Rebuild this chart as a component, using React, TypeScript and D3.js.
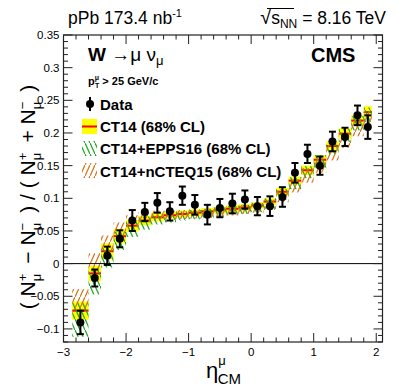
import React, { useEffect, useRef } from 'react';
import * as d3 from 'd3';

// eta_CM bins (edges) and data
const binEdges = [-2.86, -2.6, -2.4, -2.2, -2.0, -1.8, -1.6, -1.4, -1.2, -1.0, -0.8, -0.6, -0.4, -0.2, 0.0, 0.2, 0.4, 0.6, 0.8, 1.0, 1.2, 1.4, 1.6, 1.8, 1.93];
const etaCM = [-2.73, -2.5, -2.3, -2.1, -1.9, -1.7, -1.5, -1.3, -1.1, -0.9, -0.7, -0.5, -0.3, -0.1, 0.1, 0.3, 0.5, 0.7, 0.9, 1.1, 1.3, 1.5, 1.7, 1.865];
const asym = [-0.090, -0.022, 0.012, 0.038, 0.066, 0.079, 0.093, 0.080, 0.104, 0.090, 0.075, 0.085, 0.092, 0.098, 0.088, 0.088, 0.102, 0.139, 0.168, 0.150, 0.187, 0.194, 0.227, 0.209];
const asymErr = [0.018, 0.013, 0.014, 0.013, 0.016, 0.014, 0.015, 0.014, 0.014, 0.015, 0.015, 0.014, 0.015, 0.014, 0.014, 0.015, 0.015, 0.015, 0.014, 0.014, 0.015, 0.014, 0.015, 0.018];

const ct14 = [-0.072, -0.015, 0.019, 0.042, 0.058, 0.066, 0.071, 0.074, 0.076, 0.078, 0.080, 0.082, 0.084, 0.086, 0.089, 0.095, 0.110, 0.127, 0.143, 0.159, 0.180, 0.199, 0.219, 0.232];
const ct14Err = [0.014, 0.012, 0.012, 0.011, 0.009, 0.007, 0.006, 0.005, 0.005, 0.005, 0.005, 0.005, 0.005, 0.005, 0.005, 0.005, 0.006, 0.006, 0.007, 0.007, 0.007, 0.008, 0.008, 0.009];
const epps16 = [-0.086, -0.028, 0.009, 0.035, 0.053, 0.062, 0.068, 0.071, 0.073, 0.075, 0.077, 0.079, 0.081, 0.083, 0.086, 0.092, 0.106, 0.123, 0.140, 0.156, 0.177, 0.196, 0.215, 0.228];
const epps16Err = [0.026, 0.019, 0.015, 0.014, 0.012, 0.010, 0.008, 0.008, 0.007, 0.007, 0.007, 0.007, 0.007, 0.007, 0.007, 0.008, 0.008, 0.009, 0.009, 0.010, 0.010, 0.010, 0.011, 0.011];
const ncteq15 = [-0.055, 0.002, 0.031, 0.052, 0.065, 0.071, 0.073, 0.074, 0.075, 0.076, 0.077, 0.079, 0.081, 0.083, 0.085, 0.090, 0.103, 0.119, 0.135, 0.150, 0.170, 0.189, 0.208, 0.221];
const ncteq15Err = [0.016, 0.014, 0.012, 0.011, 0.009, 0.008, 0.008, 0.007, 0.007, 0.007, 0.007, 0.007, 0.007, 0.007, 0.007, 0.008, 0.009, 0.010, 0.011, 0.011, 0.012, 0.012, 0.013, 0.013];

const yTicks = [-0.1, -0.05, 0, 0.05, 0.1, 0.15, 0.2, 0.25, 0.3, 0.35];
const xTicks = [-3, -2, -1, 0, 1, 2];

const FONT = 'Liberation Sans, Arial, Helvetica, sans-serif';

function App() {
  const ref = useRef<SVGSVGElement>(null);

  useEffect(() => {
    drawChart();
  });

  function drawChart() {
    const width = 399;
    const height = 389;
    const frame = { left: 63.5, right: 382.5, top: 35, bottom: 342 };

    const svg = d3.select(ref.current);
    svg.selectAll('*').remove();
    svg.append('rect').attr('width', width).attr('height', height).attr('fill', 'white');

    const xScale = d3.scaleLinear().domain([-3, 2.1]).range([frame.left, frame.right]);
    const yScale = d3.scaleLinear().domain([-0.12, 0.35]).range([frame.bottom, frame.top]);

    // hatch patterns
    const defs = svg.append('defs');
    const hatch = (id: string, color: string, dir: number) => {
      const p = defs.append('pattern')
        .attr('id', id)
        .attr('patternUnits', 'userSpaceOnUse')
        .attr('width', 5)
        .attr('height', 11);
      p.append('path')
        .attr('d', dir > 0 ? 'M-1,13.2 L6,-2.2' : 'M-1,-2.2 L6,13.2')
        .attr('stroke', color)
        .attr('stroke-width', 1.3)
        .attr('fill', 'none');
    };
    hatch('hatchGreen', '#1fa81f', -1);
    hatch('hatchOrange', '#d9731a', 1);

    const bins = etaCM.map((e, i) => ({ lo: binEdges[i], hi: binEdges[i + 1], i }));

    // CT14 yellow boxes
    svg.append('g').selectAll('rect')
      .data(bins).enter().append('rect')
      .attr('x', d => xScale(d.lo))
      .attr('width', d => xScale(d.hi) - xScale(d.lo))
      .attr('y', d => yScale(ct14[d.i] + ct14Err[d.i]))
      .attr('height', d => yScale(ct14[d.i] - ct14Err[d.i]) - yScale(ct14[d.i] + ct14Err[d.i]))
      .attr('fill', '#ffff00');

    // CT14 central red line
    svg.append('g').selectAll('line')
      .data(bins).enter().append('line')
      .attr('x1', d => xScale(d.lo))
      .attr('x2', d => xScale(d.hi))
      .attr('y1', d => yScale(ct14[d.i]))
      .attr('y2', d => yScale(ct14[d.i]))
      .attr('stroke', '#ff0000')
      .attr('stroke-width', 2);

    // EPPS16 green hatch
    svg.append('g').selectAll('rect')
      .data(bins).enter().append('rect')
      .attr('x', d => xScale(d.lo))
      .attr('width', d => xScale(d.hi) - xScale(d.lo))
      .attr('y', d => yScale(epps16[d.i] + epps16Err[d.i]))
      .attr('height', d => yScale(epps16[d.i] - epps16Err[d.i]) - yScale(epps16[d.i] + epps16Err[d.i]))
      .attr('fill', 'url(#hatchGreen)');

    // nCTEQ15 orange hatch
    svg.append('g').selectAll('rect')
      .data(bins).enter().append('rect')
      .attr('x', d => xScale(d.lo))
      .attr('width', d => xScale(d.hi) - xScale(d.lo))
      .attr('y', d => yScale(ncteq15[d.i] + ncteq15Err[d.i]))
      .attr('height', d => yScale(ncteq15[d.i] - ncteq15Err[d.i]) - yScale(ncteq15[d.i] + ncteq15Err[d.i]))
      .attr('fill', 'url(#hatchOrange)');

    // zero line
    svg.append('line')
      .attr('x1', frame.left).attr('x2', frame.right)
      .attr('y1', yScale(0)).attr('y2', yScale(0))
      .attr('stroke', 'black').attr('stroke-width', 1);

    // data points
    const pts = svg.append('g');
    etaCM.forEach((e, i) => {
      const cx = xScale(e);
      const y1 = yScale(asym[i] + asymErr[i]);
      const y2 = yScale(asym[i] - asymErr[i]);
      pts.append('line').attr('x1', cx).attr('x2', cx).attr('y1', y1).attr('y2', y2)
        .attr('stroke', 'black').attr('stroke-width', 2);
      [y1, y2].forEach(yy => pts.append('line')
        .attr('x1', cx - 3.5).attr('x2', cx + 3.5).attr('y1', yy).attr('y2', yy)
        .attr('stroke', 'black').attr('stroke-width', 2));
      pts.append('circle').attr('cx', cx).attr('cy', yScale(asym[i])).attr('r', 4).attr('fill', 'black');
    });

    // frame
    svg.append('rect')
      .attr('x', frame.left).attr('y', frame.top)
      .attr('width', frame.right - frame.left).attr('height', frame.bottom - frame.top)
      .attr('fill', 'none').attr('stroke', '#222').attr('stroke-width', 1.2);

    // ticks
    const tg = svg.append('g').attr('stroke', '#222').attr('stroke-width', 1);
    d3.range(-12, 36).forEach(k => {
      const v = k / 100;
      const yy = yScale(v);
      const major = k % 5 === 0;
      const len = major ? 9 : 4.5;
      tg.append('line').attr('x1', frame.left).attr('x2', frame.left + len).attr('y1', yy).attr('y2', yy);
      tg.append('line').attr('x1', frame.right).attr('x2', frame.right - len).attr('y1', yy).attr('y2', yy);
    });
    d3.range(-30, 21, 2).forEach(k => {
      const v = k / 10;
      const xx = xScale(v);
      const major = k % 10 === 0;
      const len = major ? 9 : 4.5;
      tg.append('line').attr('x1', xx).attr('x2', xx).attr('y1', frame.bottom).attr('y2', frame.bottom - len);
      tg.append('line').attr('x1', xx).attr('x2', xx).attr('y1', frame.top).attr('y2', frame.top + len);
    });

    // tick labels
    svg.append('g').selectAll('text')
      .data(yTicks).enter().append('text')
      .attr('x', frame.left - 4)
      .attr('y', d => yScale(d) + 4)
      .attr('text-anchor', 'end')
      .style('font-family', FONT).style('font-size', '11.5px')
      .text(d => (d < 0 ? '\u2212' : '') + d3.format('')(Math.abs(d)));
    svg.append('g').selectAll('text')
      .data(xTicks).enter().append('text')
      .attr('x', d => xScale(d))
      .attr('y', frame.bottom + 14)
      .attr('text-anchor', 'middle')
      .style('font-family', FONT).style('font-size', '11.5px')
      .text(d => (d < 0 ? '\u2212' : '') + Math.abs(d));

    // header
    const h1 = svg.append('text').attr('x', 68).attr('y', 24)
      .style('font-family', FONT).style('font-size', '17.5px');
    h1.append('tspan').text('pPb 173.4 nb');
    h1.append('tspan').attr('dy', -7).style('font-size', '11px').text('-1');

    const h2 = svg.append('text').attr('x', 386).attr('y', 24).attr('text-anchor', 'end')
      .style('font-family', FONT).style('font-size', '17.5px');
    h2.append('tspan').style('font-size', '20px').text('\u221A');
    h2.append('tspan').text('s');
    h2.append('tspan').attr('dy', 4).style('font-size', '12px').text('NN');
    h2.append('tspan').attr('dy', -4).text(' = 8.16 TeV');
    svg.append('line').attr('x1', 267).attr('x2', 294).attr('y1', 8.5).attr('y2', 8.5)
      .attr('stroke', 'black').attr('stroke-width', 1);

    // axis titles
    const yt = svg.append('text')
      .attr('transform', `translate(35, 197) rotate(-90)`)
      .attr('text-anchor', 'middle')
      .style('font-family', FONT).style('font-size', '21px');
    const nTerm = (sign: string) => {
      yt.append('tspan').text('N');
      yt.append('tspan').attr('dy', -8).style('font-size', '13px').text(sign);
      yt.append('tspan').attr('dx', -7.5).attr('dy', 14).style('font-size', '13px').text('\u03BC');
      yt.append('tspan').attr('dy', -6).text('\u2009');
    };
    yt.append('tspan').text('( ');
    nTerm('+');
    yt.append('tspan').text(' \u2212 ');
    nTerm('\u2212');
    yt.append('tspan').text(' ) / ( ');
    nTerm('+');
    yt.append('tspan').text(' + ');
    nTerm('\u2212');
    yt.append('tspan').text(' )');

    const xt = svg.append('text').attr('x', 206).attr('y', 378)
      .style('font-family', FONT).style('font-size', '22px');
    xt.append('tspan').text('\u03B7');
    xt.append('tspan').attr('dy', -13).style('font-size', '13px').text('\u03BC');
    xt.append('tspan').attr('dx', -8).attr('dy', 19).style('font-size', '15px').text('CM');

    // legend / labels
    const wt = svg.append('text').attr('x', 88).attr('y', 61)
      .style('font-family', FONT).style('font-size', '19px');
    wt.append('tspan').style('font-weight', 'bold').text('W ');
    wt.append('tspan').text('\u2192\u03BC \u03BD');
    wt.append('tspan').attr('dy', 4).style('font-size', '13px').text('\u03BC');

    const pt = svg.append('text').attr('x', 88).attr('y', 85)
      .style('font-family', FONT).style('font-size', '11px').style('font-weight', 'bold');
    pt.append('tspan').text('p');
    pt.append('tspan').attr('dy', -5).style('font-size', '7px').text('\u03BC');
    pt.append('tspan').attr('dx', -4).attr('dy', 8).style('font-size', '7px').text('T');
    pt.append('tspan').attr('dy', -3).text(' > 25 GeV/c');

    svg.append('text').attr('x', 311).attr('y', 62)
      .style('font-family', FONT).style('font-size', '20px').style('font-weight', 'bold')
      .text('CMS');

    const lx = 82;
    const lw = 15;
    const legendRows = [
      { label: 'Data', y: 110 },
      { label: 'CT14 (68% CL)', y: 132 },
      { label: 'CT14+EPPS16 (68% CL)', y: 154 },
      { label: 'CT14+nCTEQ15 (68% CL)', y: 177 },
    ];
    svg.append('g').selectAll('text')
      .data(legendRows).enter().append('text')
      .attr('x', 100).attr('y', d => d.y)
      .style('font-family', FONT).style('font-size', '15px').style('font-weight', 'bold')
      .text(d => d.label);

    // data legend marker
    svg.append('line').attr('x1', 90).attr('x2', 90).attr('y1', 97).attr('y2', 111)
      .attr('stroke', 'black').attr('stroke-width', 2);
    svg.append('circle').attr('cx', 90).attr('cy', 104).attr('r', 4).attr('fill', 'black');
    // CT14 legend
    svg.append('rect').attr('x', lx).attr('y', 119).attr('width', lw).attr('height', 15).attr('fill', '#ffff00');
    svg.append('line').attr('x1', lx).attr('x2', lx + lw).attr('y1', 126.5).attr('y2', 126.5)
      .attr('stroke', '#ff0000').attr('stroke-width', 2);
    svg.append('rect').attr('x', lx).attr('y', 141).attr('width', lw).attr('height', 15).attr('fill', 'url(#hatchGreen)');
    svg.append('rect').attr('x', lx).attr('y', 163).attr('width', lw).attr('height', 15).attr('fill', 'url(#hatchOrange)');
  }

  return (
    <svg ref={ref} width={399} height={389}
      style={{ position: 'absolute', left: 0, top: 0, display: 'block' }} />
  );
}

export default App;
